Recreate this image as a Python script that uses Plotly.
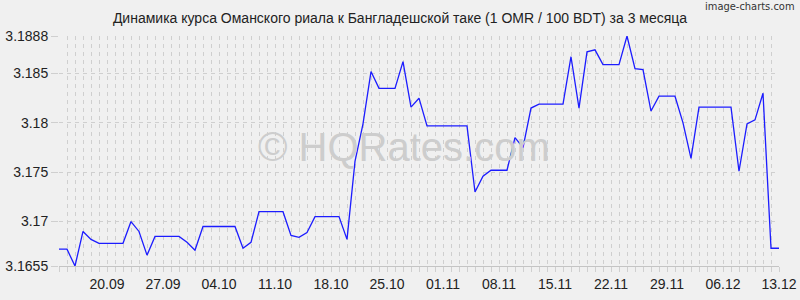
import datetime as dt
import plotly.graph_objects as go

# ---- data ----
start_date = "2024-09-14"
rates = [
    3.1672, 3.1672, 3.1655, 3.1690, 3.1682, 3.1678, 3.1678, 3.1678, 3.1678, 3.1700,
    3.1690, 3.1666, 3.1685, 3.1685, 3.1685, 3.1685, 3.1679, 3.1671, 3.1695, 3.1695,
    3.1695, 3.1695, 3.1695, 3.1673, 3.1679, 3.1710, 3.1710, 3.1710, 3.1710, 3.1686,
    3.1684, 3.1689, 3.1705, 3.1705, 3.1705, 3.1705, 3.1682, 3.1761, 3.1799, 3.1852,
    3.1835, 3.1835, 3.1835, 3.1862, 3.1816, 3.1825, 3.1797, 3.1797, 3.1797, 3.1797,
    3.1797, 3.1797, 3.1730, 3.1746, 3.1752, 3.1752, 3.1752, 3.1785, 3.1775, 3.1815,
    3.1819, 3.1819, 3.1819, 3.1819, 3.1867, 3.1815, 3.1872, 3.1874, 3.1859, 3.1859,
    3.1859, 3.1888, 3.1855, 3.1854, 3.1812, 3.1827, 3.1827, 3.1827, 3.1800, 3.1764,
    3.1816, 3.1816, 3.1816, 3.1816, 3.1816, 3.1751, 3.1799, 3.1803, 3.1830, 3.1673,
    3.1673,
]
x_tick_labels = ["20.09", "27.09", "04.10", "11.10", "18.10", "25.10", "01.11",
                 "08.11", "15.11", "22.11", "29.11", "06.12", "13.12"]
y_tick_values = [3.1655, 3.17, 3.175, 3.18, 3.185, 3.1888]
y_tick_labels = ["3.1655", "3.17", "3.175", "3.18", "3.185", "3.1888"]
title_text = "Динамика курса Оманского риала к Бангладешской таке (1 OMR / 100 BDT) за 3 месяца"
watermark_text = "© HQRates.com"
credit_text = "image-charts.com"

# ---- build ----
d0 = dt.date.fromisoformat(start_date)
dates = [d0 + dt.timedelta(days=i) for i in range(len(rates))]
tickvals = dates
ticktext = [d.strftime("%d.%m") if d.strftime("%d.%m") in x_tick_labels else "" for d in dates]

BG = "#f0f0f0"
GRID = "#cfcfcf"
FONT = "Liberation Sans, Arial, sans-serif"

fig = go.Figure()
fig.add_trace(go.Scatter(x=dates, y=rates, mode="lines",
                         line=dict(color="#1c1cff", width=1.3),
                         hoverinfo="skip", showlegend=False))

fig.update_layout(
    width=800, height=300,
    paper_bgcolor=BG, plot_bgcolor=BG,
    margin=dict(l=59, r=21, t=36, b=34),
    font=dict(family=FONT, size=14, color="#222222"),
    title=dict(text=title_text, x=0.5, xref="container", xanchor="center",
               y=1 - 18 / 300, yref="container", yanchor="middle",
               font=dict(size=14, color="#222222", family=FONT)),
    annotations=[
        dict(text=watermark_text, xref="paper", yref="paper",
             x=0.479, y=0.517, xanchor="center", yanchor="middle",
             showarrow=False, font=dict(size=40, color="#cdcdcd", family=FONT)),
        dict(text=credit_text, xref="paper", yref="paper",
             x=(797 - 59) / 720, y=(266 - 6) / 230, xanchor="right", yanchor="middle",
             showarrow=False,
             font=dict(size=11, color="#333333",
                       family="Liberation Sans Narrow, DejaVu Sans Condensed, sans-serif")),
    ],
)
fig.update_xaxes(
    range=[dates[0], dates[-1]],
    tickmode="array", tickvals=tickvals, ticktext=ticktext,
    showgrid=True, gridcolor=GRID, griddash="4px,4px", gridwidth=1,
    ticks="outside", ticklen=5, tickcolor=GRID, tickwidth=1,
    showline=True, linecolor="#c4c4c4", linewidth=1,
    zeroline=False, tickangle=0, automargin=False,
    tickfont=dict(size=14, color="#222222"),
)
fig.update_yaxes(
    range=[y_tick_values[0], y_tick_values[-1]],
    tickmode="array", tickvals=y_tick_values, ticktext=y_tick_labels,
    showgrid=True, gridcolor=GRID, griddash="4px,4px", gridwidth=1,
    ticks="outside", ticklen=7, tickcolor=GRID,
    showline=False, zeroline=False, automargin=False,
    tickfont=dict(size=14, color="#222222"),
)

fig.write_html("out.html")
